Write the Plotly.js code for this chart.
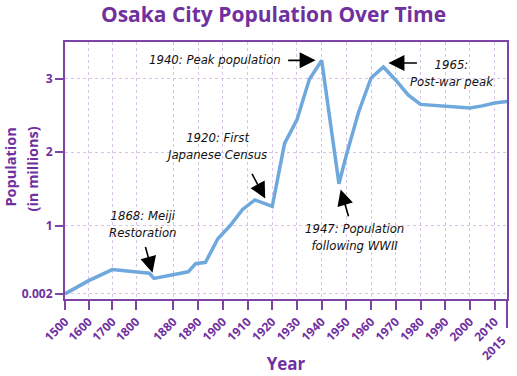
<!DOCTYPE html>
<html>
<head>
<meta charset="utf-8">
<script src="https://cdn.plot.ly/plotly-3.0.1.min.js"></script>
<style>html,body{margin:0;padding:0;background:#fff;}#chart{width:517px;height:376px;}</style>
</head>
<body>
<div id="chart"></div>
<script>
// ---- data ----
const years = [1500, 1600, 1700, 1850, 1868, 1886, 1889, 1893, 1898, 1903, 1908, 1913, 1920,
  1925, 1930, 1935, 1940, 1947, 1950, 1955, 1960, 1965, 1970, 1975, 1980, 1985, 1990, 1995,
  2000, 2005, 2010, 2015];
const population = [0.07, 0.25, 0.40, 0.35, 0.28, 0.37, 0.48, 0.50, 0.82, 1.00, 1.22, 1.35, 1.26,
  2.12, 2.44, 2.99, 3.25, 1.57, 1.96, 2.55, 3.01, 3.16, 2.98, 2.78, 2.65, 2.64, 2.62, 2.61,
  2.60, 2.63, 2.67, 2.69];
const tickYears = [1500, 1600, 1700, 1800, 1880, 1890, 1900, 1910, 1920, 1930, 1940, 1950,
  1960, 1970, 1980, 1990, 2000, 2010];
const lastTickYear = 2015;
const yTickValues = [0.07, 1, 2, 3];
const yTickLabels = ['0.002', '1', '2', '3'];

// ---- the reference's broken (piecewise) year scale ----
const scaleYears = [1500, 1800, 1868, 1880, 2015];
const scaleSlots = [0, 3, 3.76, 4.575, 18.66];
function slot(yr) {
  for (let i = 0; i < scaleYears.length - 1; i++) {
    const a = scaleYears[i], b = scaleYears[i + 1];
    if (yr <= b || i === scaleYears.length - 2) {
      return scaleSlots[i] + (yr - a) / (b - a) * (scaleSlots[i + 1] - scaleSlots[i]);
    }
  }
}
function popAt(yr) { return population[years.indexOf(yr)]; }

const PURPLE = '#7030a0';
const LINEP = '#7b44a5';
const GRID = '#d9c2e8';
const FONT = '"Open Sans", Lato, sans-serif';
const NOTE = { family: '"DejaVu Sans Condensed", "Liberation Sans", sans-serif', size: 13, color: '#111', style: 'italic' };
const YTITLE = { family: FONT, size: 14.5, color: PURPLE, weight: 'bold' };

const trace = {
  x: years.map(slot), y: population, type: 'scatter', mode: 'lines',
  line: { color: '#6fa8dc', width: 3.5 }, hoverinfo: 'skip'
};

function arrow(yr, ax, ay, opts) {
  return Object.assign({ x: slot(yr), y: popAt(yr), xref: 'x', yref: 'y', text: '', showarrow: true,
    ax: ax, ay: ay, axref: 'pixel', ayref: 'pixel', arrowhead: 2, arrowsize: 2, arrowwidth: 1.6,
    arrowcolor: '#000' }, opts || {});
}
function note(yr, text, xs, ys, opts) {
  return Object.assign({ x: slot(yr), y: popAt(yr), xref: 'x', yref: 'y', text: text, showarrow: false,
    xshift: xs, yshift: ys, font: NOTE, align: 'center', xanchor: 'center', yanchor: 'middle' }, opts || {});
}

const annotations = [
  arrow(1940, -35, 0, { standoff: 6 }),
  note(1940, '1940: Peak population', -39, 1, { xanchor: 'right' }),
  arrow(1965, 30, 0, { xshift: 5, yshift: 4 }),
  note(1965, '1965:<br>Post-war peak', 69, -6),
  arrow(1947, 10, 34, { standoff: 6 }),
  note(1947, '1947: Population<br>following WWII', 16, -53),
  arrow(1920, -14, -26, { xshift: -7, yshift: 8 }),
  note(1920, '1920: First<br>Japanese Census', -56, 60),
  arrow(1868, -9, -33, { standoff: 6 }),
  note(1868, '1868: Meiji<br>Restoration', -11, 54),
  { x: slot(lastTickYear), y: 0, xref: 'x', yref: 'paper', text: String(lastTickYear), showarrow: false,
    textangle: -45, xanchor: 'right', yanchor: 'top', xshift: 6, yshift: -30,
    font: { family: FONT, size: 12, color: PURPLE, weight: 'bold' } },
  { x: 0, y: 0.5, xref: 'paper', yref: 'paper', text: 'Population', showarrow: false,
    textangle: -90, xanchor: 'center', yanchor: 'middle', xshift: -55, yshift: 3, font: YTITLE },
  { x: 0, y: 0.5, xref: 'paper', yref: 'paper', text: '(in millions)', showarrow: false,
    textangle: -90, xanchor: 'center', yanchor: 'middle', xshift: -33, yshift: 1, font: YTITLE }
];

const layout = {
  width: 517, height: 376,
  margin: { l: 65, r: 10, t: 42, b: 77 },
  paper_bgcolor: '#fff', plot_bgcolor: '#fff',
  showlegend: false,
  title: { text: 'Osaka City Population Over Time', x: 0.529, xanchor: 'center', xref: 'container',
    y: 0.962, yanchor: 'middle', font: { family: FONT, size: 21, color: PURPLE, weight: 'bold' } },
  xaxis: {
    range: [0, slot(lastTickYear)], tickmode: 'array',
    tickvals: tickYears.map(slot), ticktext: tickYears.map(String), tickangle: -45,
    tickfont: { family: FONT, size: 12, color: PURPLE, weight: 'bold' },
    ticks: 'outside', ticklen: 9, tickwidth: 2, tickcolor: LINEP,
    showline: true, linecolor: LINEP, linewidth: 2, mirror: true,
    showgrid: true, gridcolor: GRID, griddash: 'dot', gridwidth: 1, zeroline: false,
    title: { text: 'Year', standoff: 14, font: { family: FONT, size: 17, color: PURPLE, weight: 'bold' } }
  },
  yaxis: {
    range: [0, 3.5], tickmode: 'array', tickvals: yTickValues, ticktext: yTickLabels,
    tickfont: { family: FONT, size: 12, color: PURPLE, weight: 'bold' },
    ticks: 'outside', ticklen: 8, tickwidth: 2, tickcolor: LINEP,
    showline: true, linecolor: LINEP, linewidth: 2, mirror: true,
    showgrid: true, gridcolor: GRID, griddash: 'dot', gridwidth: 1, zeroline: false
  },
  shapes: [
    { type: 'line', xref: 'paper', yref: 'paper', x0: 1, x1: 1, y0: 0, y1: -0.113,
      line: { color: LINEP, width: 2 } }
  ],
  annotations: annotations
};

Plotly.newPlot('chart', [trace], layout, { staticPlot: true, displayModeBar: false });
</script>
</body>
</html>
